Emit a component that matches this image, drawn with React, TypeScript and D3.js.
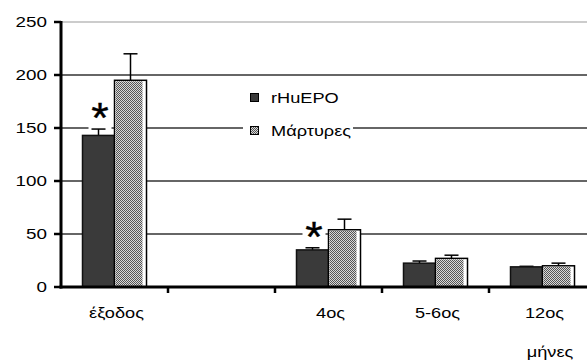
import React from 'react';
import * as d3 from 'd3';

// categories on the x axis (the second slot is empty in the original)
const categories = ['έξοδος', '', '4ος', '5-6ος', '12ος'];
const seriesNames = ['rHuEPO', 'Μάρτυρες'];
// mean values, null where there is no bar
const rhuepo = [143, null, 35, 22.5, 19];
const rhuepoErr = [6, null, 2, 2, 0.5];
const martyres = [195, null, 54, 27, 20];
const martyresErr = [25, null, 10, 3, 2.5];
const yTicks = [0, 50, 100, 150, 200, 250];
const starred = ['έξοδος', '4ος'];

const FONT = '"Liberation Sans", Arial, sans-serif';
const SX = 1.3; // the original text looks stretched sideways

const App = () => {
  const left = 61;
  const top = 22;
  const bottom = 287;

  const y = d3.scaleLinear().domain([0, 250]).range([bottom, top]);
  const x = d3.scaleBand().domain(categories).range([left, left + 5 * 107]).padding(0);
  const groupW = 64;
  const x1 = d3.scaleBand().domain(seriesNames).range([0, groupW]).padding(0);
  const off = (x.bandwidth() - groupW) / 2;

  const stretched = (tx, ty, txt, size, anchor = 'start') => (
    <text
      key={txt + tx}
      transform={`translate(${tx},${ty}) scale(${SX},1)`}
      fontSize={size}
      fontFamily={FONT}
      textAnchor={anchor}
      fill="#000"
    >
      {txt}
    </text>
  );

  const series = [
    { name: seriesNames[0], vals: rhuepo, errs: rhuepoErr },
    { name: seriesNames[1], vals: martyres, errs: martyresErr },
  ];

  // centre of the star above the rHuEPO bar
  const starPos = c => {
    const i = categories.indexOf(c);
    const cx = x(c) + off + x1(seriesNames[0]) + x1.bandwidth() / 2;
    const cy = y(rhuepo[i] + rhuepoErr[i]) - 21;
    return [cx, cy];
  };

  return (
    <svg width={587} height={363} style={{ position: 'absolute', left: 0, top: 0, background: '#fff' }}>
      <defs>
        <pattern id="checker" width={2} height={2} patternUnits="userSpaceOnUse">
          <rect width={2} height={2} fill="#d8d8d8" />
          <rect width={1} height={1} fill="#555" />
          <rect x={1} y={1} width={1} height={1} fill="#555" />
        </pattern>
      </defs>

      {/* gridlines */}
      {yTicks.filter(t => t > 0).map(t => (
        <line
          key={t}
          x1={left}
          x2={587}
          y1={y(t)}
          y2={y(t)}
          stroke={t === 250 ? '#999' : '#333'}
          strokeWidth={t === 250 ? 1 : 1.3}
        />
      ))}

      {/* white boxes behind the asterisks */}
      {starred.map(c => {
        const [cx, cy] = starPos(c);
        return <rect key={c} x={cx - 10} y={cy - 10} width={23} height={32} fill="#fff" />;
      })}

      {/* legend */}
      <rect x={243} y={86} width={110} height={54} fill="#fff" />
      {series.map((s, i) => {
        const ly = 93 + i * 33;
        return (
          <g key={s.name}>
            {i === 0 ? (
              <rect x={250.5} y={ly + 0.5} width={8} height={8} fill="#3a3a3a" stroke="#000" />
            ) : (
              <rect x={250.5} y={ly + 0.5} width={8} height={8} fill="url(#checker)" stroke="#000" />
            )}
            {stretched(271, ly + 10, s.name, 14)}
          </g>
        );
      })}

      {/* bars */}
      {series.map((s, si) =>
        categories.map((c, i) => {
          const v = s.vals[i];
          if (v == null) return null;
          const bx = x(c) + off + x1(s.name);
          const bw = x1.bandwidth();
          const by = y(v);
          const bh = bottom - by;
          const ex = bx + bw / 2;
          const ey = y(v + s.errs[i]);
          return (
            <g key={s.name + c}>
              <line x1={ex} x2={ex} y1={by} y2={ey} stroke="#000" strokeWidth={1.5} />
              <line x1={ex - 7} x2={ex + 7} y1={ey} y2={ey} stroke="#000" strokeWidth={1.5} />
              {si === 0 ? (
                <rect x={bx} y={by} width={bw} height={bh} fill="#3a3a3a" stroke="#111" strokeWidth={1.5} />
              ) : (
                <g>
                  <rect x={bx} y={by} width={bw} height={bh} fill="#fff" stroke="#000" strokeWidth={1.5} />
                  <rect x={bx + 1} y={by + 1} width={bw - 5} height={bh - 1} fill="url(#checker)" />
                </g>
              )}
            </g>
          );
        })
      )}

      {/* asterisks */}
      {starred.map(c => {
        const [cx, cy] = starPos(c);
        return (
          <text
            key={c}
            transform={`translate(${cx + 1.5},${cy + 24}) scale(1.4,1.35)`}
            fontSize={32}
            fontFamily={FONT}
            textAnchor="middle"
            stroke="#000"
            strokeWidth={0.3}
          >
            *
          </text>
        );
      })}

      {/* y axis */}
      <line x1={left} x2={left} y1={top - 1} y2={bottom + 1.5} stroke="#000" strokeWidth={3} />
      {yTicks.map(t => (
        <g key={t}>
          <line x1={left - 7} x2={left} y1={y(t)} y2={y(t)} stroke="#000" strokeWidth={2.5} />
          {stretched(47, y(t) + 5, String(t), 14.5, 'end')}
        </g>
      ))}

      {/* x axis */}
      <line x1={left - 1.5} x2={587} y1={bottom} y2={bottom} stroke="#000" strokeWidth={3} />
      {categories.slice(1).map(c => (
        <line key={c} x1={x(c)} x2={x(c)} y1={bottom} y2={bottom + 6} stroke="#000" strokeWidth={2.5} />
      ))}
      {categories.filter(c => c !== '').map(c => stretched(x(c) + x.bandwidth() / 2 + 2, 318, c, 14, 'middle'))}
      {stretched(550, 357, 'μήνες', 14, 'middle')}
    </svg>
  );
};

export default App;
